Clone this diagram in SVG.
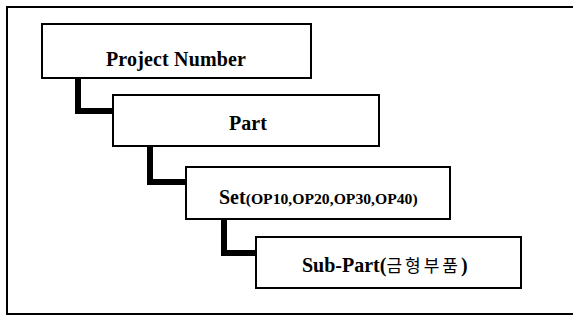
<svg xmlns="http://www.w3.org/2000/svg" width="573" height="325" viewBox="0 0 573 325">
<style>
.box{fill:#fff;stroke:#000;stroke-width:2}
.conn{fill:none;stroke:#000;stroke-width:6;stroke-linejoin:miter}
.t{font-family:"Liberation Serif","Noto Sans CJK KR",serif;font-weight:bold;font-size:20px;fill:#000}
.s{font-size:15px}
.k{font-family:"Noto Sans CJK KR","Liberation Serif",sans-serif;font-weight:normal;font-size:17px}
</style>
<rect width="573" height="325" fill="#fff"/>
<rect id="frame" x="7" y="7" width="580" height="307" fill="none" stroke="#000" stroke-width="2"/>
<g id="connectors">
<path class="conn" d="M78,78 V111 H113"/>
<path class="conn" d="M150,146 V182 H186"/>
<path class="conn" d="M224,219 V253 H256"/>
</g>
<g id="project-number">
<rect class="box" x="42" y="24" width="269" height="54"/>
<text class="t" x="176" y="66" text-anchor="middle" textLength="140">Project Number</text>
</g>
<g id="part">
<rect class="box" x="113" y="95" width="266" height="51"/>
<text class="t" x="248" y="130" text-anchor="middle">Part</text>
</g>
<g id="set">
<rect class="box" x="186" y="167" width="264" height="52"/>
<text class="t" x="219" y="204">Set<tspan class="s" textLength="172" lengthAdjust="spacingAndGlyphs">(OP10,OP20,OP30,OP40)</tspan></text>
</g>
<g id="sub-part">
<rect class="box" x="256" y="237" width="265" height="51"/>
<text class="t" x="302" y="272">Sub-Part(<tspan class="k" letter-spacing="3">금형부품</tspan>)</text>
</g>
</svg>
